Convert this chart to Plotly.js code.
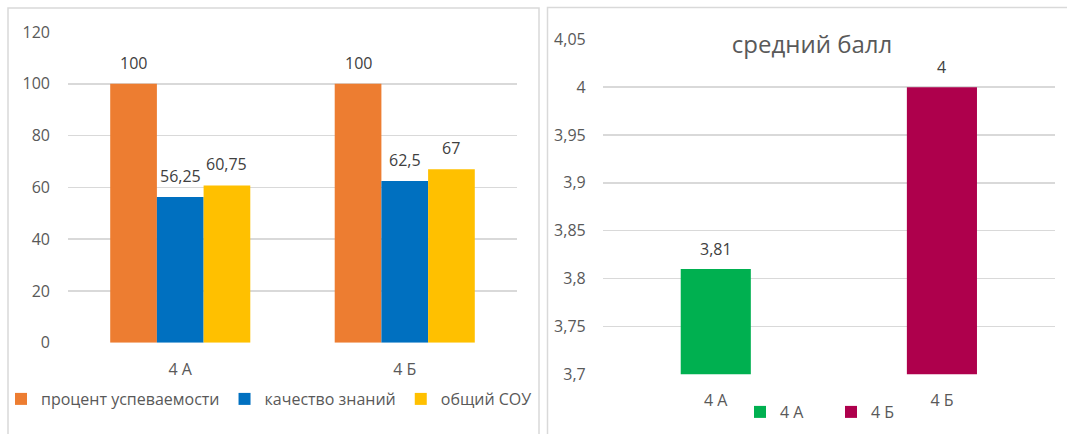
<!DOCTYPE html>
<html><head><meta charset="utf-8">
<script src="https://cdn.plot.ly/plotly-3.0.1.min.js"></script>
<style>html,body{margin:0;padding:0;background:#fff}#chart{width:1067px;height:434px}</style>
</head><body><div id="chart"></div>
<script>
// ---- data ----
const classes = ['4 А', '4 Б'];
const seriesNames = ['процент успеваемости', 'качество знаний', 'общий СОУ'];
const successRate = [100, 100];
const knowledgeQuality = [56.25, 62.5];
const overallSOU = [60.75, 67];
const leftTickVals = [0, 20, 40, 60, 80, 100, 120];

const avgTitle = 'средний балл';
const avgScore = [3.81, 4];
const rightTickVals = [3.7, 3.75, 3.8, 3.85, 3.9, 3.95, 4, 4.05];

// ---- styling ----
const W = 1067, H = 434;
const px = v => v / W, py = v => 1 - v / H;
const fmt = v => String(v).replace('.', ',');
const FONT = 'Open Sans, sans-serif';
const TICK_COLOR = '#595959', LABEL_COLOR = '#404040', GRID = '#d9d9d9';
const leftColors = ['#ED7D31', '#0070C0', '#FFC000'];
const rightColors = ['#00B050', '#AE004C'];
const leftSeries = [successRate, knowledgeQuality, overallSOU];
const BARGAP = 0.376;

const traces = [];
leftSeries.forEach((vals, i) => {
  traces.push({
    type: 'bar', name: seriesNames[i], x: classes, y: vals,
    marker: {color: leftColors[i]}, xaxis: 'x', yaxis: 'y',
    legend: 'legend', hoverinfo: 'skip'
  });
});
classes.forEach((c, i) => {
  traces.push({
    type: 'bar', name: c, x: [c], y: [avgScore[i]],
    marker: {color: rightColors[i]}, xaxis: 'x2', yaxis: 'y2',
    offsetgroup: 'avg', width: 0.31,
    legend: 'legend2', hoverinfo: 'skip'
  });
});

const annotations = [];
const leftPlotW = 517 - 68;
const barW = leftPlotW / classes.length * (1 - BARGAP) / leftSeries.length;
leftSeries.forEach((vals, s) => {
  vals.forEach((v, c) => {
    annotations.push({
      xref: 'x', yref: 'y', x: classes[c], y: v, text: fmt(v),
      xshift: (s - (leftSeries.length - 1) / 2) * barW, yshift: 21,
      showarrow: false, yanchor: 'middle',
      font: {family: FONT, size: 16, color: LABEL_COLOR}
    });
  });
});
avgScore.forEach((v, c) => {
  annotations.push({
    xref: 'x2', yref: 'y2', x: classes[c], y: v, text: fmt(v),
    yshift: 20, showarrow: false, yanchor: 'middle',
    font: {family: FONT, size: 16, color: LABEL_COLOR}
  });
});

const axisFont = {family: FONT, size: 16, color: TICK_COLOR};
const layout = {
  width: W, height: H,
  margin: {l: 0, r: 0, t: 0, b: 0},
  paper_bgcolor: '#fff', plot_bgcolor: '#fff',
  font: {family: FONT, color: TICK_COLOR},
  barmode: 'group', bargap: BARGAP, bargroupgap: 0,
  title: {
    text: avgTitle, x: px(812), xref: 'paper', xanchor: 'center',
    y: py(45), yref: 'container', yanchor: 'middle',
    font: {family: FONT, size: 24, color: TICK_COLOR}
  },
  xaxis: {
    domain: [px(68), px(517)], anchor: 'y', type: 'category',
    categoryorder: 'array', categoryarray: classes,
    showgrid: false, zeroline: false, showline: false, ticks: '',
    tickfont: axisFont, ticklabelstandoff: 15
  },
  yaxis: {
    domain: [py(342.7), py(32)], anchor: 'x', range: [0, 120],
    tickvals: leftTickVals, ticktext: leftTickVals.map(fmt),
    showgrid: true, gridcolor: GRID, gridwidth: 1.5,
    zeroline: false, showline: false, ticks: '',
    tickfont: axisFont, ticklabelstandoff: 17
  },
  xaxis2: {
    domain: [px(602.7), px(1055)], anchor: 'y2', type: 'category',
    categoryorder: 'array', categoryarray: classes,
    showgrid: false, zeroline: false, showline: false, ticks: '',
    tickfont: axisFont, ticklabelstandoff: 15
  },
  yaxis2: {
    domain: [py(374.3), py(39.3)], anchor: 'x2', range: [3.6999, 4.0501],
    tickvals: rightTickVals, ticktext: rightTickVals.map(fmt),
    showgrid: true, gridcolor: GRID, gridwidth: 1.5,
    zeroline: false, showline: false, ticks: '',
    tickfont: axisFont, ticklabelstandoff: 16
  },
  legend: {
    orientation: 'h', x: px(269), xanchor: 'center', y: py(399), yanchor: 'middle',
    font: {family: FONT, size: 16, color: TICK_COLOR}, bgcolor: 'rgba(0,0,0,0)'
  },
  legend2: {
    orientation: 'h', x: px(831), xanchor: 'center', y: py(412), yanchor: 'middle',
    entrywidth: 46, entrywidthmode: 'pixels',
    font: {family: FONT, size: 16, color: TICK_COLOR}, bgcolor: 'rgba(0,0,0,0)'
  },
  shapes: [
    {type: 'rect', xref: 'paper', yref: 'paper', x0: px(8), x1: px(539), y0: -0.1, y1: py(8),
     line: {color: GRID, width: 1.5}, fillcolor: 'rgba(0,0,0,0)', layer: 'below'},
    {type: 'rect', xref: 'paper', yref: 'paper', x0: px(547.5), x1: 1.1, y0: -0.1, y1: py(7.5),
     line: {color: GRID, width: 1.5}, fillcolor: 'rgba(0,0,0,0)', layer: 'below'}
  ],
  annotations: annotations
};

Plotly.newPlot('chart', traces, layout, {displayModeBar: false, staticPlot: true});
</script>
</body></html>
